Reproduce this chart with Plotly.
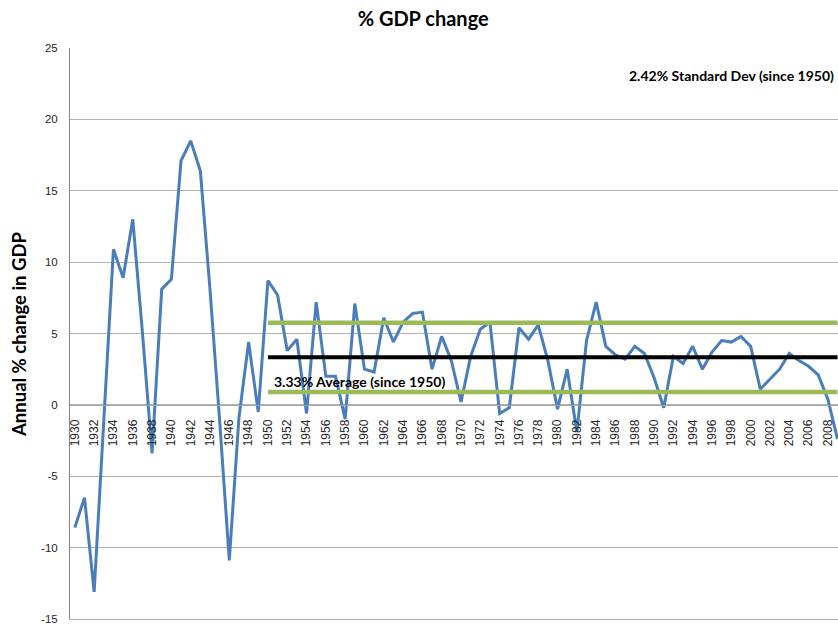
import plotly.graph_objects as go

years = list(range(1930, 2010))
gdp_change = [-8.6, -6.5, -13.1, -1.3, 10.9, 8.9, 13.0, 5.1, -3.4, 8.1,
              8.8, 17.1, 18.5, 16.4, 8.1, -1.1, -10.9, -0.9, 4.4, -0.5,
              8.7, 7.7, 3.8, 4.6, -0.6, 7.2, 2.0, 2.0, -1.0, 7.1,
              2.5, 2.3, 6.1, 4.4, 5.8, 6.4, 6.5, 2.5, 4.8, 3.1,
              0.2, 3.4, 5.3, 5.8, -0.6, -0.2, 5.4, 4.6, 5.6, 3.1,
              -0.3, 2.5, -1.9, 4.5, 7.2, 4.1, 3.5, 3.2, 4.1, 3.6,
              1.9, -0.2, 3.4, 2.9, 4.1, 2.5, 3.7, 4.5, 4.4, 4.8,
              4.1, 1.1, 1.8, 2.5, 3.6, 3.1, 2.7, 2.1, 0.4, -2.4]

stat_years = [1950, 2009]
average = 3.33
std_dev = 2.42
tick_years = list(range(1930, 2009, 2))
y_ticks = [-15, -10, -5, 0, 5, 10, 15, 20, 25]

FONT = "Lato"
X_RANGE = [1929.5, 2009.05]

fig = go.Figure()
fig.add_trace(go.Scatter(x=years, y=gdp_change, mode="lines",
                         line=dict(color="#4A7EBB", width=3), showlegend=False))
fig.add_trace(go.Scatter(x=stat_years, y=[average + std_dev] * 2, mode="lines",
                         line=dict(color="#9BBB59", width=4.5), showlegend=False))
fig.add_trace(go.Scatter(x=stat_years, y=[average - std_dev] * 2, mode="lines",
                         line=dict(color="#9BBB59", width=4.5), showlegend=False))
fig.add_trace(go.Scatter(x=stat_years, y=[average] * 2, mode="lines",
                         line=dict(color="#000000", width=4), showlegend=False))

fig.update_layout(
    width=838, height=625,
    margin=dict(l=70, r=0, t=48, b=6),
    paper_bgcolor="white", plot_bgcolor="white",
    font=dict(family=FONT, color="#000000"),
    title=dict(text="<b>% GDP change</b>", x=0.505, xanchor="center",
               y=0.97, yanchor="middle", font=dict(size=20, family=FONT)),
    xaxis=dict(range=X_RANGE, tickvals=tick_years,
               ticktext=[str(y) for y in tick_years], tickangle=-90,
               tickfont=dict(size=12, family="Liberation Sans", color="#262626"),
               ticklabelstandoff=9,
               showgrid=False, zeroline=False, showline=True, linecolor="#A6A6A6",
               linewidth=1, ticks="", anchor="free", position=0.375),
    xaxis2=dict(range=X_RANGE, overlaying="x", side="bottom", anchor="y",
                showline=True, linecolor="#B3B3B3", linewidth=1,
                showticklabels=False, showgrid=False, zeroline=False, ticks=""),
    yaxis=dict(range=[-15, 25], tickvals=y_ticks, ticktext=[str(v) for v in y_ticks],
               tickfont=dict(size=11.5, family="Liberation Sans", color="#262626"),
               ticklabeloverflow="allow",
               showgrid=True, gridcolor="#B3B3B3", gridwidth=1, zeroline=False,
               showline=True, linecolor="#868686", linewidth=1, ticks="",
               ticklabelstandoff=9),
    annotations=[
        dict(text="<b>Annual % change in GDP</b>", xref="paper", yref="paper",
             x=(19 - 70) / 768, y=(619 - 334) / 571, textangle=-90,
             showarrow=False, font=dict(size=18.5, family=FONT),
             xanchor="center", yanchor="middle"),
        dict(text="<b>2.42% Standard Dev (since 1950)</b>", xref="paper", yref="paper",
             x=0.998, y=(619 - 75) / 571, xanchor="right", yanchor="middle",
             showarrow=False, font=dict(size=14, family=FONT)),
        dict(text="<b>3.33% Average (since 1950)</b>", xref="x", yref="y",
             x=1950.45, y=1.65, xanchor="left", yanchor="middle",
             showarrow=False, font=dict(size=14, family=FONT)),
    ],
)
# invisible helper trace so the bottom frame axis is rendered
fig.add_trace(go.Scatter(x=[years[0]], y=[gdp_change[0]], xaxis="x2", mode="markers",
                         marker=dict(opacity=0), showlegend=False, hoverinfo="skip"))

fig.write_html("out.html", config={"displayModeBar": False},
               post_script="document.body.style.margin='0';document.body.style.overflow='hidden';")
